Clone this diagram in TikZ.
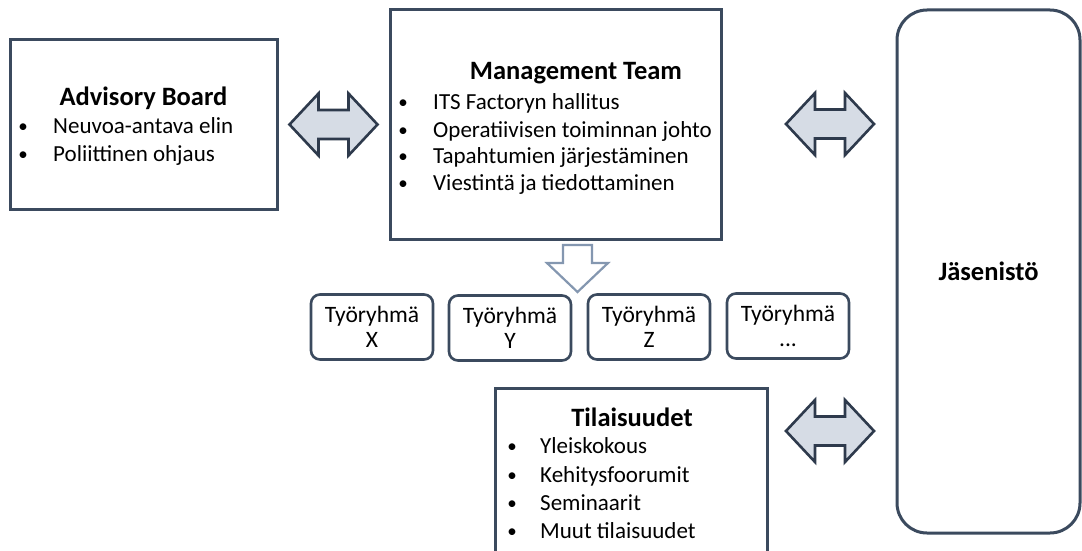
\documentclass[tikz,border=0pt]{standalone}
\usepackage{fontspec}
\setmainfont{Carlito}
\usetikzlibrary{calc}
\definecolor{boxline}{HTML}{3B4A5E}
\definecolor{arrowfill}{HTML}{D6DCE5}
\definecolor{arrowline}{HTML}{2E3A4C}
\definecolor{downline}{HTML}{8497B0}
\tikzset{
  panel/.style={draw=boxline, line width=3pt, fill=white, inner sep=0pt},
  roundpanel/.style={panel, rounded corners=30pt},
  wgbox/.style={draw=boxline, line width=2.6pt, rounded corners=9pt, minimum width=122pt,
    minimum height=65pt, inner sep=0pt, align=center, font=\fontsize{23.5}{25}\selectfont},
  title/.style={font=\fontsize{26.5}{30}\selectfont\bfseries, anchor=base, inner sep=0pt},
  item/.style={font=\fontsize{23}{27}\selectfont, anchor=base west, inner sep=0pt},
  bul/.style={font=\fontsize{19}{25}\selectfont, anchor=base, inner sep=0pt, yshift=1pt},
  dblarrow/.style={draw=arrowline, fill=arrowfill, line width=2.6pt, line join=miter},
  downarrow/.style={draw=downline, fill=white, line width=2.2pt, line join=miter}
}
\begin{document}
\begin{tikzpicture}[x=1pt,y=-1pt]
\clip (0,0) rectangle (1082,551);
\fill[white] (0,0) rectangle (1082,551);
% boxes
\node[panel, minimum width=267pt, minimum height=170pt] (ab) at (143.5,124.5) {};
\node[panel, minimum width=331pt, minimum height=229pt] (mt) at (555.5,124.5) {};
\node[roundpanel, minimum width=183pt, minimum height=523pt] (jas) at (988.5,271.5) {};
\node[panel, minimum width=272pt, minimum height=220pt] (til) at (631,498) {};
% Advisory Board
\node[title] (abt) at (143.5,105) {Advisory Board};
\node[bul] (abb1) at (23,133) {•};
\node[item] (abi1) at (53,133) {Neuvoa-antava elin};
\node[bul] (abb2) at (23,161) {•};
\node[item] (abi2) at (53,161) {Poliittinen ohjaus};
% Management Team
\node[title] (mtt) at (576,80) {Management Team};
\node[bul] (mtb1) at (403,110) {•};
\node[item] (mti1) at (433,110) {ITS Factoryn hallitus};
\node[bul] (mtb2) at (403,137) {•};
\node[item] (mti2) at (433,137) {Operatiivisen toiminnan johto};
\node[bul] (mtb3) at (403,163) {•};
\node[item] (mti3) at (433,163) {Tapahtumien järjestäminen};
\node[bul] (mtb4) at (403,190) {•};
\node[item] (mti4) at (433,190) {Viestintä ja tiedottaminen};
% Jäsenistö
\node[title, anchor=center] (jast) at (988.5,271) {Jäsenistö};
% Tilaisuudet
\node[title] (tilt) at (632,426) {Tilaisuudet};
\node[bul] (tilb1) at (512,453) {•};
\node[item] (tili1) at (540,453) {Yleiskokous};
\node[bul] (tilb2) at (512,482) {•};
\node[item] (tili2) at (540,482) {Kehitysfoorumit};
\node[bul] (tilb3) at (512,510) {•};
\node[item] (tili3) at (540,510) {Seminaarit};
\node[bul] (tilb4) at (512,538) {•};
\node[item] (tili4) at (540,538) {Muut tilaisuudet};
% Työryhmät
\node[wgbox] (wgx) at (372,327) {Työryhmä\\X};
\node[wgbox] (wgy) at (510,328) {Työryhmä\\Y};
\node[wgbox] (wgz) at (649,327) {Työryhmä\\Z};
\node[wgbox] (wgd) at (788,326) {Työryhmä\\...};
% block arrows
\coordinate (arrab) at ($(ab.east)!0.5!(mt.west)$);
\coordinate (arrmt) at (830,124);
\coordinate (arrtil) at (830,431);
\coordinate (arrdown) at (577.5,268);
\foreach \c in {arrab,arrmt,arrtil}{
  \draw[dblarrow, shift={(\c)}] (-44,0) -- (-15,-31) -- (-15,-14.5) -- (15,-14.5) -- (15,-31)
    -- (44,0) -- (15,31) -- (15,14.5) -- (-15,14.5) -- (-15,31) -- cycle;
}
\draw[downarrow, shift={(arrdown)}] (-14.5,-23) -- (14.5,-23) -- (14.5,-5) -- (30.5,-5)
  -- (0,24) -- (-30.5,-5) -- (-14.5,-5) -- cycle;
\end{tikzpicture}
\end{document}
